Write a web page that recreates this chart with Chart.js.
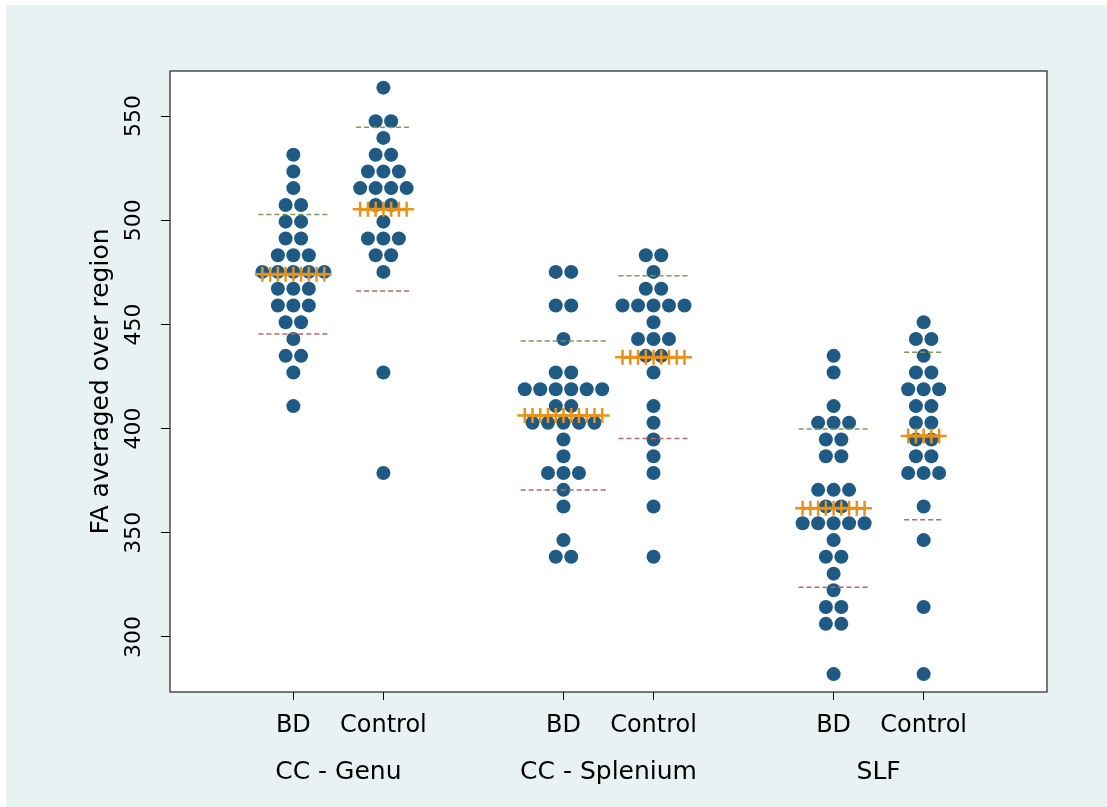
<!DOCTYPE html>
<html>
<head>
<meta charset="utf-8">
<script src="https://cdn.jsdelivr.net/npm/chart.js@4.4.1/dist/chart.umd.min.js"></script>
<style>
html,body{margin:0;padding:0;background:#fff;}
#wrap{width:1107px;height:807px;}
</style>
</head>
<body>
<div id="wrap"><canvas id="c" width="1107" height="807"></canvas></div>
<script>
// ---- data ----
const regions = ['CC - Genu', 'CC - Splenium', 'SLF'];
const groups = ['BD', 'Control'];
const yTicks = [300, 350, 400, 450, 500, 550];
const yTitle = 'FA averaged over region';

const genuBD = [531.4, 523.4, 515.4, 507.3, 507.3, 499.3, 499.3, 491.2, 491.2,
  483.2, 483.2, 483.2, 475.2, 475.2, 475.2, 475.2, 475.2, 467.1, 467.1, 467.1,
  459.1, 459.1, 459.1, 451.0, 451.0, 443.0, 434.9, 434.9, 426.9, 410.8];
const genuControl = [563.6, 547.5, 547.5, 539.5, 531.4, 531.4, 523.4, 523.4, 523.4,
  515.4, 515.4, 515.4, 515.4, 507.3, 507.3, 499.3, 491.2, 491.2, 491.2,
  483.2, 483.2, 475.2, 426.9, 378.7];
const spleniumBD = [475.2, 475.2, 459.1, 459.1, 443.0, 426.9, 426.9,
  418.9, 418.9, 418.9, 418.9, 418.9, 418.9, 410.8, 410.8,
  402.8, 402.8, 402.8, 402.8, 402.8, 394.8, 386.7, 378.7, 378.7, 378.7,
  370.6, 362.6, 346.5, 338.5, 338.5];
const spleniumControl = [483.2, 483.2, 475.2, 467.1, 467.1, 459.1, 459.1, 459.1, 459.1, 459.1,
  451.0, 443.0, 443.0, 443.0, 434.9, 434.9, 426.9, 410.8, 402.8, 394.8,
  386.7, 378.7, 362.6, 338.5];
const slfBD = [434.9, 426.9, 410.8, 402.8, 402.8, 402.8, 394.8, 394.8, 386.7, 386.7,
  370.6, 370.6, 370.6, 362.6, 362.6, 354.6, 354.6, 354.6, 354.6, 354.6,
  346.5, 338.5, 338.5, 330.4, 322.4, 314.4, 314.4, 306.3, 306.3, 282.2];
const slfControl = [451.0, 443.0, 443.0, 434.9, 426.9, 426.9, 418.9, 418.9, 418.9,
  410.8, 410.8, 402.8, 402.8, 394.8, 394.8, 386.7, 386.7, 378.7, 378.7, 378.7,
  362.6, 346.5, 314.4, 282.2];

const series = [[genuBD, genuControl], [spleniumBD, spleniumControl], [slfBD, slfControl]];

// ---- layout / style constants ----
const STEP = 0.172;      // horizontal dot spacing (x units)
const EXT = 0.045;       // extra half-width of the SD lines
const DOT = '#1F5A85', ORANGE = '#E8921A', GREEN = '#7E9A5A', RED = '#B56A6A';
const BG = '#E9F2F2';

const tickPos = [], tickLab = [], regionPos = [];
const datasets = [];

regions.forEach((r, gi) => {
  regionPos.push(gi * 3 + 1.5);
  groups.forEach((g, si) => {
    const center = gi * 3 + si + 1;
    tickPos.push(center); tickLab.push(g);
    const vals = series[gi][si];
    // dot plot arrangement: stack equal values side by side
    const counts = new Map();
    vals.forEach(v => counts.set(v, (counts.get(v) || 0) + 1));
    const pts = [];
    let maxN = 1;
    counts.forEach((n, v) => {
      maxN = Math.max(maxN, n);
      for (let i = 0; i < n; i++) pts.push({x: center + (i - (n - 1) / 2) * STEP, y: v});
    });
    const n = vals.length;
    const mean = vals.reduce((a, b) => a + b, 0) / n;
    const sd = Math.sqrt(vals.reduce((a, b) => a + (b - mean) * (b - mean), 0) / (n - 1));
    const half = (maxN - 1) / 2 * STEP;
    const meanPts = [];
    for (let k = 0; k <= 2 * (maxN - 1); k++) meanPts.push({x: center - half + k * STEP / 2, y: mean});
    datasets.push({type: 'scatter', data: pts, order: 3, pointRadius: 7, pointHoverRadius: 7,
      pointBackgroundColor: DOT, pointBorderWidth: 0, borderWidth: 0});
    datasets.push({type: 'line', data: [{x: center - half - EXT, y: mean + sd}, {x: center + half + EXT, y: mean + sd}],
      order: 2, borderColor: GREEN, borderWidth: 1.5, borderDash: [5, 3], pointRadius: 0, fill: false});
    datasets.push({type: 'line', data: [{x: center - half - EXT, y: mean - sd}, {x: center + half + EXT, y: mean - sd}],
      order: 2, borderColor: RED, borderWidth: 1.5, borderDash: [5, 3], pointRadius: 0, fill: false});
    datasets.push({type: 'line', data: meanPts, order: 1, borderColor: ORANGE, borderWidth: 3,
      pointStyle: 'cross', pointRadius: 7.5, pointHoverRadius: 7.5, pointBorderColor: ORANGE,
      pointBorderWidth: 2.5, fill: false});
  });
});

const frame = {
  id: 'frame',
  beforeDraw(chart) {
    const {ctx, chartArea: a} = chart;
    ctx.save();
    ctx.fillStyle = '#fff';
    ctx.fillRect(0, 0, chart.width, chart.height);
    ctx.fillStyle = BG;
    ctx.fillRect(6, 5, chart.width - 6, chart.height - 5);
    ctx.fillStyle = '#fff';
    ctx.fillRect(a.left, a.top, a.right - a.left, a.bottom - a.top);
    ctx.restore();
  },
  afterDraw(chart) {
    const {ctx, chartArea: a} = chart;
    ctx.save();
    ctx.strokeStyle = '#222';
    ctx.lineWidth = 1.2;
    ctx.strokeRect(a.left, a.top, a.right - a.left, a.bottom - a.top);
    ctx.restore();
  }
};

Chart.defaults.font.family = "'DejaVu Sans', sans-serif";
Chart.defaults.color = '#000';

new Chart(document.getElementById('c'), {
  type: 'scatter',
  data: {datasets},
  plugins: [frame],
  options: {
    responsive: false,
    animation: false,
    devicePixelRatio: 1,
    layout: {padding: {top: 71, right: 60, bottom: 0, left: 0}},
    plugins: {legend: {display: false}, tooltip: {enabled: false}},
    scales: {
      x: {
        type: 'linear', position: 'bottom', min: -0.37, max: 9.37,
        afterBuildTicks: s => { s.ticks = tickPos.map(v => ({value: v})); },
        afterFit: s => { s.height = 56; },
        ticks: {callback: (v, i) => tickLab[i], font: {size: 24}, color: '#000', padding: 11,
          autoSkip: false, maxRotation: 0, minRotation: 0},
        grid: {display: true, drawOnChartArea: false, drawTicks: true, tickLength: 8, color: '#000'},
        border: {display: false}
      },
      x2: {
        type: 'linear', position: 'bottom', min: -0.37, max: 9.37,
        afterBuildTicks: s => { s.ticks = regionPos.map(v => ({value: v})); },
        afterFit: s => { s.height = 59; },
        ticks: {callback: (v, i) => regions[i], font: {size: 25}, color: '#000', padding: 9,
          autoSkip: false, maxRotation: 0, minRotation: 0},
        grid: {display: false, drawTicks: false},
        border: {display: false}
      },
      y: {
        type: 'linear', position: 'left', min: 273.6, max: 571.6,
        afterBuildTicks: s => { s.ticks = yTicks.map(v => ({value: v})); },
        afterFit: s => { s.width = 170; },
        ticks: {font: {size: 22}, color: '#000', padding: 6, crossAlign: 'center',
          minRotation: 90, maxRotation: 90},
        grid: {display: true, drawOnChartArea: false, drawTicks: true, tickLength: 9, color: '#000'},
        border: {display: false},
        title: {display: true, text: yTitle, font: {size: 25}, color: '#000', padding: {top: 86, bottom: 0}}
      }
    }
  }
});
</script>
</body>
</html>
